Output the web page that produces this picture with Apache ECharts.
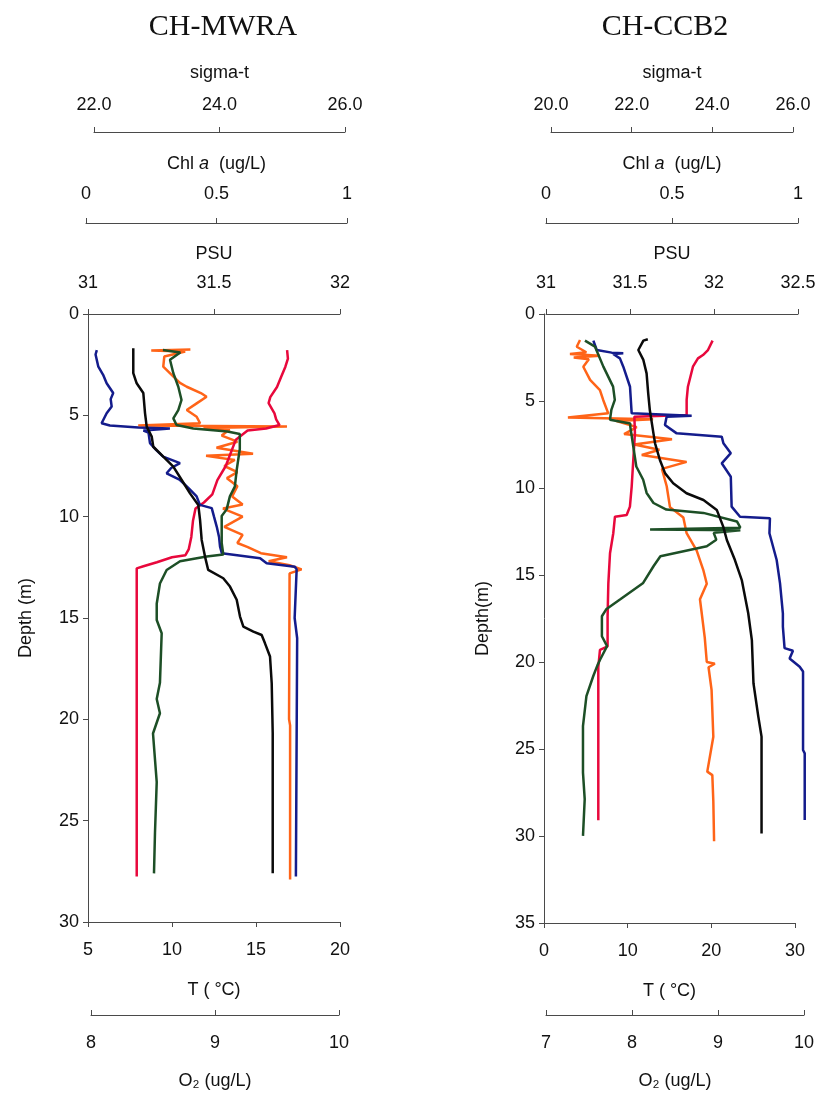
<!DOCTYPE html>
<html>
<head>
<meta charset="utf-8">
<script src="https://cdn.jsdelivr.net/npm/echarts@6/dist/echarts.min.js"></script>
<style>html,body{margin:0;padding:0;background:#fff}#c{width:825px;height:1095px}</style>
</head>
<body>
<div id="c"></div>
<script>
// ---------- DATA : CH-MWRA (left) ----------
const mwraTitle = 'CH-MWRA';
const mwraTdepth = [1.78,2.2,2.6,3.1,3.6,4.1,4.4,4.9,5.2,5.48,5.65,5.75,6.2,7.5,8.2,8.9,9.3,9.6,10.2,11.0,11.6,11.9,12.0,12.25,12.45,12.55,20,27.75];
const mwraT      = [16.85,16.9,16.75,16.5,16.25,15.85,15.75,16.1,16.2,16.4,15.6,14.5,13.8,13.2,12.7,12.4,11.9,11.4,11.25,11.15,11.0,10.8,10.0,9.1,8.3,7.9,7.9,7.9];
const mwraSdepth = [1.78,2.0,2.6,3.0,3.42,3.9,4.2,4.57,4.9,5.39,5.5,5.6,5.65,5.75,5.85,6.37,6.7,7.04,7.36,7.6,7.86,8.19,8.6,9.0,9.42,9.58,10.0,10.5,11.0,11.48,11.8,12.05,12.3,12.47,12.6,15.0,16.0,27.75];
const mwraPSU    = [31.035,31.03,31.041,31.06,31.074,31.10,31.09,31.094,31.074,31.054,31.087,31.2,31.325,31.22,31.24,31.246,31.27,31.298,31.365,31.33,31.312,31.365,31.40,31.431,31.444,31.491,31.50,31.511,31.52,31.524,31.531,31.683,31.709,31.821,31.828,31.82,31.83,31.825];
const mwraDdepth = [1.69,2.92,3.42,3.9,4.89,5.56,6.05,6.55,7.04,7.53,8.19,8.85,9.42,10.16,11.15,11.97,12.63,13.04,13.45,14.1,14.93,15.43,15.67,15.84,16.25,16.9,18.22,20.69,27.6];
const mwraSigma  = [22.626,22.626,22.68,22.786,22.813,22.84,22.92,22.945,23.104,23.264,23.398,23.53,23.662,23.69,23.716,23.769,23.82,24.06,24.167,24.274,24.327,24.38,24.54,24.672,24.725,24.805,24.832,24.848,24.848];
const mwraCdepth = [1.75,1.8,1.85,2.1,2.6,3.09,3.4,3.59,3.9,4.08,4.41,4.74,5.07,5.39,5.5,5.55,5.62,5.7,6.0,6.3,6.6,6.9,7.0,7.2,7.5,7.8,8.1,8.5,9.0,9.4,9.6,10.0,10.5,10.9,11.3,11.5,11.8,12.0,12.2,12.4,12.6,12.8,20.0,20.3,27.9];
const mwraChl    = [0.40,0.25,0.38,0.30,0.296,0.335,0.36,0.386,0.44,0.462,0.424,0.386,0.424,0.437,0.20,0.77,0.45,0.55,0.52,0.58,0.50,0.64,0.46,0.57,0.53,0.58,0.54,0.58,0.56,0.60,0.525,0.60,0.53,0.60,0.58,0.62,0.67,0.77,0.70,0.78,0.826,0.78,0.778,0.782,0.782];
const mwraOdepth = [1.78,1.9,2.26,2.92,3.59,4.24,4.74,5.15,5.48,5.65,5.8,5.92,6.66,7.7,8.52,9.0,9.64,9.97,11.3,11.87,11.97,12.2,12.63,13.3,14.3,15.1,15.75,18.2,19.0,19.7,20.7,23.1,25.6,27.6];
const mwraO2     = [8.58,8.72,8.637,8.664,8.704,8.73,8.704,8.664,8.69,8.825,9.10,9.20,9.20,9.175,9.16,9.12,9.094,9.054,9.054,9.067,8.933,8.718,8.61,8.556,8.53,8.53,8.57,8.556,8.53,8.556,8.50,8.53,8.516,8.508];

// ---------- DATA : CH-CCB2 (right) ----------
const ccbTitle = 'CH-CCB2';
const ccbTdepth = [1.53,2.07,2.36,2.55,3.03,4.18,4.94,5.8,5.9,6.85,8.39,9.92,11.07,11.55,11.65,12.6,13.75,15.48,17.4,19.1,19.3,20.3,29.1];
const ccbT      = [20.15,19.6,19.0,18.4,17.8,17.2,17.05,17.05,10.8,10.87,10.67,10.48,10.27,9.88,8.48,8.28,7.89,7.69,7.6,7.6,6.69,6.49,6.49];
const ccbSdepth = [1.53,2.07,2.22,2.26,2.3,2.55,3.03,4.18,5.71,5.85,5.9,6.0,6.38,6.86,7.05,7.43,8.0,8.58,9.35,11.07,11.65,11.74,12.6,14.14,15.48,17.2,17.97,19.2,19.35,19.8,20.27,20.55,25.06,25.25,29.08];
const ccbPSU    = [31.282,31.302,31.391,31.46,31.40,31.44,31.46,31.50,31.51,31.867,31.718,31.72,31.708,31.778,32.046,32.056,32.1,32.046,32.1,32.105,32.155,32.333,32.33,32.373,32.393,32.41,32.41,32.42,32.47,32.45,32.51,32.53,32.53,32.54,32.54];
const ccbDdepth = [1.45,1.53,2.07,2.64,3.41,4.56,5.52,6.86,7.43,8.39,9.16,9.73,10.3,10.69,11.26,12.22,12.99,14.14,15.29,17.2,18.74,21.22,23.14,24.29,29.85];
const ccbSigma  = [22.4,22.29,22.165,22.29,22.37,22.41,22.45,22.54,22.58,22.70,22.83,23.03,23.36,23.78,24.11,24.27,24.36,24.56,24.73,24.89,24.98,25.02,25.14,25.22,25.22];
const ccbCdepth = [1.49,1.88,2.2,2.3,2.4,2.5,2.6,3.03,3.79,4.37,4.94,5.71,5.95,6.05,6.15,6.5,6.9,7.2,7.5,7.8,8.1,8.5,8.9,9.9,11.1,11.7,12.6,13.6,14.7,15.5,16.4,17.2,18.6,20.0,20.1,20.3,21.6,24.3,26.3,26.5,28.0,30.3];
const ccbChl    = [0.135,0.122,0.16,0.095,0.214,0.11,0.17,0.148,0.175,0.214,0.227,0.247,0.087,0.425,0.28,0.36,0.31,0.50,0.35,0.45,0.38,0.558,0.46,0.479,0.492,0.545,0.558,0.598,0.624,0.638,0.611,0.618,0.63,0.638,0.67,0.645,0.657,0.664,0.64,0.66,0.664,0.667];
const ccbOdepth = [1.53,1.88,3.03,4.18,4.94,5.52,6.09,6.3,6.48,7.63,8.78,9.54,10.3,10.88,11.26,11.45,11.94,12.3,12.41,12.45,12.6,12.99,13.37,13.95,14.52,15.48,16.44,17.0,17.4,18.55,19.12,19.89,20.2,20.84,22.0,23.72,26.4,27.93,30.04];
const ccbO2     = [7.453,7.57,7.667,7.78,7.80,7.76,7.744,7.98,7.98,8.015,8.05,8.13,8.17,8.25,8.40,8.83,9.22,9.26,8.21,9.26,8.95,8.98,8.87,8.33,8.25,8.13,7.86,7.70,7.65,7.65,7.71,7.63,7.60,7.55,7.47,7.43,7.43,7.45,7.43];

// axis ranges [min, max, interval]
const mwraRanges = { depth:[0,30,5], T:[5,20,5], PSU:[31,32,0.5], Chl:[0,1,0.5], sigma:[22,26,2], O2:[8,10,1] };
const ccbRanges  = { depth:[0,35,5], T:[0,30,10], PSU:[31,32.5,0.5], Chl:[0,1,0.5], sigma:[20,26,2], O2:[7,10,1] };

// ---------- build ----------
const FONT = 'Liberation Sans, Arial, sans-serif';
const AX = '#4a4a4a';
const COLORS = { T:'#e8083c', PSU:'#141c8c', sigma:'#0a0a0a', Chl:'#ff6418', O2:'#1d4f26' };
const ZS = {T:3, PSU:4, sigma:6, Chl:2, O2:5};

const grids = [], xAxes = [], yAxes = [], series = [];

function zip(d, v){ return d.map((dd,i)=>[v[i], dd]); }

function panel(p){
  const top = 314, height = p.height;
  const dr = p.ranges.depth;
  const defs = [
    {key:'T',     pos:'bottom', offset:0,   name:'T ( °C)', gap:59, margin:19, inside:false, fmt:null},
    {key:'PSU',   pos:'top',    offset:0,   name:'PSU',     gap:51, margin:22, inside:false, fmt:null},
    {key:'Chl',   pos:'top',    offset:91,  name:'Chl {i|a}  (ug/L)', gap:50, margin:20, inside:false, fmt:null},
    {key:'sigma', pos:'top',    offset:182, name:'sigma-t', gap:50, margin:18, inside:false, fmt:v=>v.toFixed(1)},
    {key:'O2',    pos:'bottom', offset:93,  name:'O₂ (ug/L)', gap:57, margin:19, inside:true, fmt:null}
  ];
  defs.forEach((d,k)=>{
    const geo = p[d.key];               // [left, width]
    const r = p.ranges[d.key];
    const gi = grids.length;
    grids.push({left:geo[0], width:geo[1], top:top, height:height});
    xAxes.push({
      gridIndex:gi, type:'value', position:d.pos, offset:d.offset,
      min:r[0], max:r[1], interval:r[2],
      axisLine:{show:true, onZero:false, lineStyle:{color:AX, width:1}},
      axisTick:{show:true, inside:d.inside, length:5, lineStyle:{color:AX}},
      axisLabel:{show:true, margin:d.margin, color:'#111', fontSize:18, fontFamily:FONT,
                 formatter: d.fmt || (v=>String(v))},
      splitLine:{show:false},
      name:d.name, nameLocation:'middle', nameGap:d.gap,
      nameTextStyle:{color:'#111', fontSize:18, fontFamily:FONT,
                     rich:{i:{fontStyle:'italic', fontSize:18, fontFamily:FONT, color:'#111'}}}
    });
    if (k === 0) {
      yAxes.push({
        gridIndex:gi, type:'value', inverse:true, min:dr[0], max:dr[1], interval:dr[2],
        axisLine:{show:true, onZero:false, lineStyle:{color:AX, width:1}},
        axisTick:{show:true, length:5, lineStyle:{color:AX}},
        axisLabel:{margin:9, color:'#111', fontSize:18, fontFamily:FONT},
        splitLine:{show:false},
        name:p.depthName, nameLocation:'middle', nameGap:p.depthGap,
        nameTextStyle:{color:'#111', fontSize:18, fontFamily:FONT}
      });
    } else {
      yAxes.push({gridIndex:gi, type:'value', inverse:true, min:dr[0], max:dr[1], show:false,
                  axisLine:{onZero:false}, splitLine:{show:false}});
    }
    // series grid: same scale as the visible axis, extended to the right when values run past max
    let sgi = gi;
    const ext = p.extend && p.extend[d.key];
    if (ext) {
      sgi = grids.length;
      const pxPerUnit = geo[1] / (r[1] - r[0]);
      grids.push({left:geo[0], width:pxPerUnit * (ext - r[0]), top:top, height:height});
      xAxes.push({gridIndex:sgi, type:'value', min:r[0], max:ext, show:false, axisLine:{onZero:false}, splitLine:{show:false}});
      yAxes.push({gridIndex:sgi, type:'value', inverse:true, min:dr[0], max:dr[1], show:false, axisLine:{onZero:false}, splitLine:{show:false}});
    }
    const data = p.data[d.key];
    series.push({
      type:'line', xAxisIndex:sgi, yAxisIndex:sgi, data: zip(data[0], data[1]),
      showSymbol:false, symbol:'none', clip:false, silent:true,
      lineStyle:{color:COLORS[d.key], width:2.5}, itemStyle:{color:COLORS[d.key]},
      z: ZS[d.key]
    });
  });
}

panel({
  height:608, ranges:mwraRanges, depthName:'Depth (m)', depthGap:53,
  T:[88,252], PSU:[88,252], Chl:[86,261], sigma:[94,251], O2:[91,248],
  data:{T:[mwraTdepth,mwraT], PSU:[mwraSdepth,mwraPSU], sigma:[mwraDdepth,mwraSigma], Chl:[mwraCdepth,mwraChl], O2:[mwraOdepth,mwraO2]}
});
panel({
  height:609, ranges:ccbRanges, depthName:'Depth(m)', depthGap:52,
  T:[544,251], PSU:[546,252], Chl:[546,252], sigma:[551,242], O2:[546,258],
  extend:{PSU:32.6},
  data:{T:[ccbTdepth,ccbT], PSU:[ccbSdepth,ccbPSU], sigma:[ccbDdepth,ccbSigma], Chl:[ccbCdepth,ccbChl], O2:[ccbOdepth,ccbO2]}
});

const chart = echarts.init(document.getElementById('c'), null, {renderer:'canvas'});
chart.setOption({
  animation:false,
  backgroundColor:'#ffffff',
  title:[
    {text:mwraTitle, left:223, top:12, padding:0, textAlign:'center',
     textStyle:{fontFamily:'Liberation Serif, Times New Roman, serif', fontSize:30, fontWeight:'normal', color:'#111'}},
    {text:ccbTitle, left:665, top:12, padding:0, textAlign:'center',
     textStyle:{fontFamily:'Liberation Serif, Times New Roman, serif', fontSize:30, fontWeight:'normal', color:'#111'}}
  ],
  grid:grids, xAxis:xAxes, yAxis:yAxes, series:series
});
</script>
</body>
</html>
